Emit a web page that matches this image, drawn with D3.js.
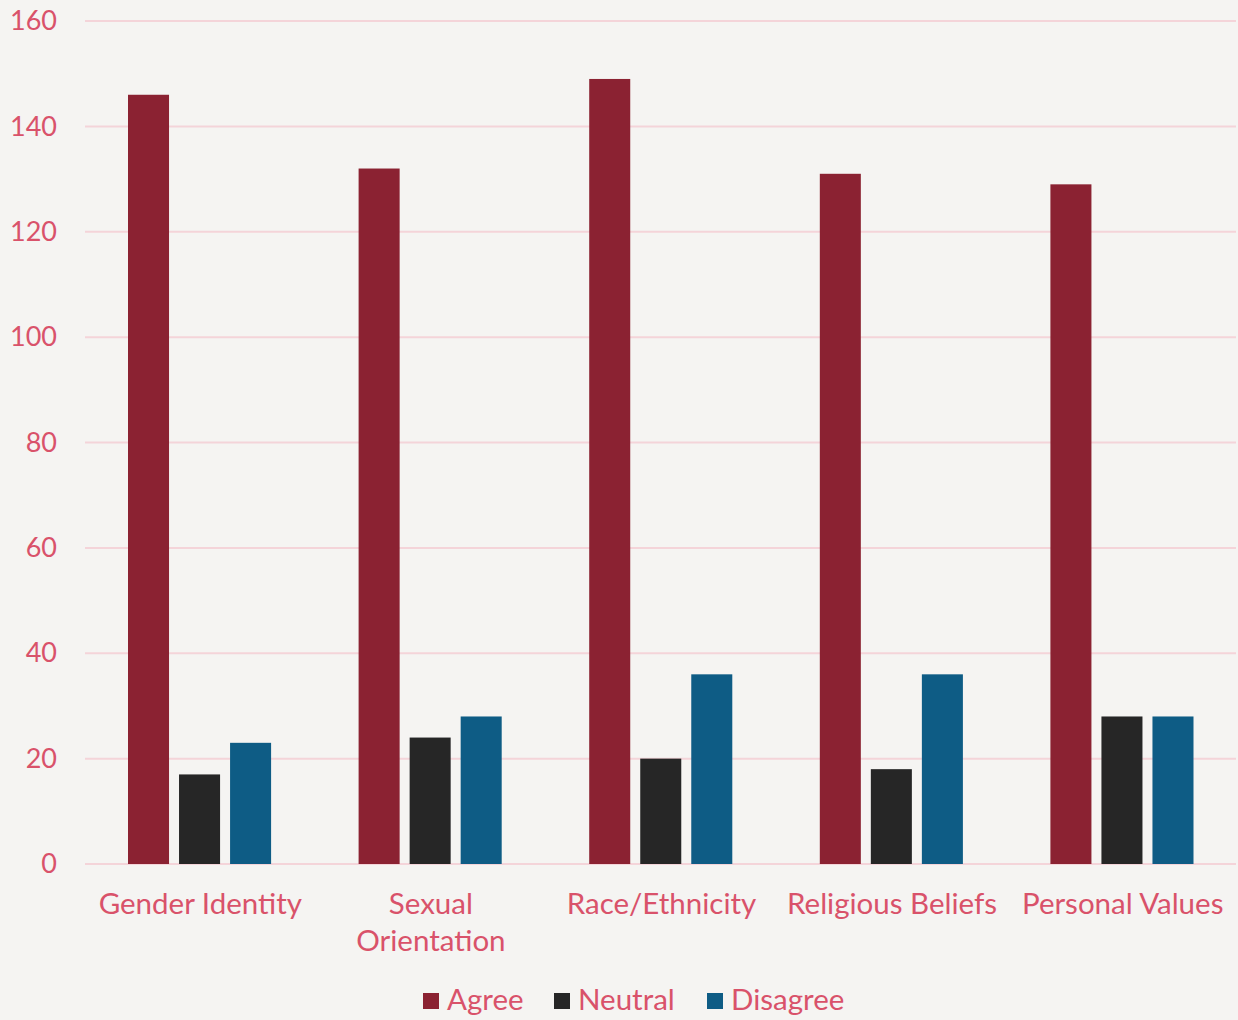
<!DOCTYPE html>
<html><head><meta charset="utf-8">
<script src="https://cdn.jsdelivr.net/npm/d3@7"></script>
<style>
html,body{margin:0;padding:0;background:#f5f4f2;}
svg{display:block;font-family:Lato, "Open Sans", sans-serif;}
</style></head>
<body><svg id="chart" width="1238" height="1020"></svg>
<script>
const categories = ["Gender Identity", "Sexual Orientation", "Race/Ethnicity", "Religious Beliefs", "Personal Values"];
const categoryLines = [["Gender Identity"], ["Sexual", "Orientation"], ["Race/Ethnicity"], ["Religious Beliefs"], ["Personal Values"]];
const seriesNames = ["Agree", "Neutral", "Disagree"];
const agree = [146, 132, 149, 131, 129];
const neutral = [17, 24, 20, 18, 28];
const disagree = [23, 28, 36, 36, 28];
const yTicks = [0, 20, 40, 60, 80, 100, 120, 140, 160];
const colors = ["#8b2232", "#262626", "#0e5c85"];
const textColor = "#d9526a";

const seriesValues = [agree, neutral, disagree];
const svg = d3.select("#chart");
const W = 1238, H = 1020;
const m = {left: 85, right: 0, top: 21, bottom: 156};

svg.append("rect").attr("width", W).attr("height", H).attr("fill", "#f5f4f2");

const x0 = d3.scaleBand().domain(categories).range([m.left, W - m.right]).paddingInner(0).paddingOuter(0);
const bw = x0.bandwidth();
const x1 = d3.scaleBand().domain(seriesNames).range([bw * 0.1865, bw * 0.807]).paddingInner(0.196).paddingOuter(0);
const y = d3.scaleLinear().domain([0, 160]).range([H - m.bottom, m.top]);

// gridlines
svg.append("g").selectAll("line").data(yTicks).join("line")
  .attr("x1", m.left).attr("x2", W - 2)
  .attr("y1", d => y(d)).attr("y2", d => y(d))
  .attr("stroke", "#f4d4d9").attr("stroke-width", 2);

// y axis labels
const yAxis = d3.axisLeft(y).tickValues(yTicks).tickSize(0).tickPadding(0);
const gy = svg.append("g").attr("transform", `translate(57,0)`).call(yAxis);
gy.select(".domain").remove();
gy.selectAll("text").attr("fill", textColor).attr("font-size", 27).attr("font-family", "Lato, sans-serif");

// bars
const groups = svg.append("g").selectAll("g").data(categories).join("g")
  .attr("transform", d => `translate(${x0(d)},0)`);
groups.selectAll("rect").data((d, i) => seriesNames.map((s, j) => ({s, v: seriesValues[j][i], j})))
  .join("rect")
  .attr("x", d => x1(d.s)).attr("width", x1.bandwidth())
  .attr("y", d => y(d.v)).attr("height", d => y(0) - y(d.v))
  .attr("fill", d => colors[d.j]);

// x labels
const xl = svg.append("g").selectAll("text").data(categories).join("text")
  .attr("x", d => x0(d) + bw / 2).attr("y", 914)
  .attr("text-anchor", "middle").attr("fill", textColor).attr("font-size", 29.5);
xl.each(function(d, i) {
  const t = d3.select(this);
  categoryLines[i].forEach((ln, k) => {
    t.append("tspan").attr("x", x0(d) + bw / 2).attr("dy", k === 0 ? 0 : 37).text(ln);
  });
});

// legend
const legendX = [423, 554, 707];
const lg = svg.append("g").selectAll("g").data(seriesNames).join("g")
  .attr("transform", (d, i) => `translate(${legendX[i]},993)`);
lg.append("rect").attr("width", 16).attr("height", 16).attr("fill", (d, i) => colors[i]);
lg.append("text").attr("x", 24).attr("y", 17).attr("fill", textColor).attr("font-size", 29.5).text(d => d);
</script>
</body></html>
